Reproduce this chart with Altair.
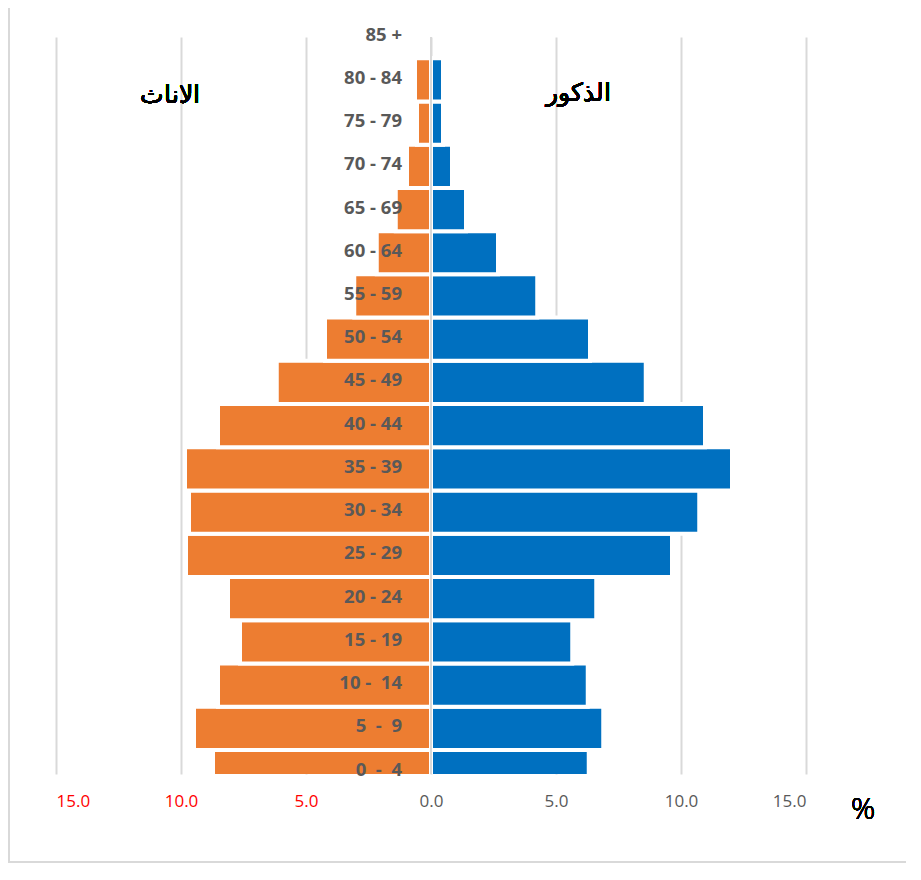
import altair as alt
import pandas as pd

ages = ["0 \u00a0-\u00a0 4", "5 \u00a0-\u00a0 9", "10 -\u00a0 14", "15 - 19", "20 - 24", "25 - 29", "30 - 34",
        "35 - 39", "40 - 44", "45 - 49", "50 - 54", "55 - 59", "60 - 64", "65 - 69",
        "70 - 74", "75 - 79", "80 - 84", "85 +"]
female = [8.72, 9.48, 8.52, 7.64, 8.12, 9.80, 9.68, 9.84, 8.52, 6.17, 4.24, 3.07,
          2.17, 1.41, 0.96, 0.56, 0.64, 0.0]
male = [6.31, 6.89, 6.27, 5.65, 6.61, 9.64, 10.73, 12.04, 10.96, 8.59, 6.36, 4.25,
        2.68, 1.40, 0.84, 0.48, 0.48, 0.0]
tick_values = [-15, -10, -5, 0, 5, 10, 15]

df = pd.DataFrame({
    "idx": list(range(len(ages))),
    "age": ages,
    "female": female,
    "male": male,
})
df["female_neg"] = -df["female"]
df["lo"] = df["idx"] - 0.5
df["hi"] = df["idx"] + 0.5

xscale = alt.Scale(domain=[-15, 15], nice=False, zero=False)
yscale = alt.Scale(domain=[-0.0555, 16.99], nice=False, zero=False)

xaxis = alt.Axis(
    values=tick_values,
    title=None,
    labelExpr="format(abs(datum.value), '.1f')",
    labelColor={"condition": {"test": "datum.value < 0", "value": "#FF0000"}, "value": "#595959"},
    labelFont="Open Sans",
    labelFontSize=17,
    labelFontWeight="normal",
    labelBaseline="middle",
    labelPadding=27,
    ticks=False,
    tickSize=0,
    domain=False,
    grid=True,
    gridColor="#d9d9d9",
    gridWidth=2,
)

base = alt.Chart(df)

fem = base.transform_filter("datum.female > 0").mark_bar(
    color="#ED7D31", stroke="white", strokeWidth=4, clip=True
).encode(
    x=alt.X("female_neg:Q", scale=xscale, axis=xaxis),
    x2=alt.datum(0),
    y=alt.Y("lo:Q", scale=yscale, axis=None),
    y2="hi:Q",
)

mal = base.transform_filter("datum.male > 0").mark_bar(
    color="#0070C0", stroke="white", strokeWidth=4, clip=True
).encode(
    x=alt.X("male:Q", scale=xscale),
    x2=alt.datum(0),
    y=alt.Y("lo:Q", scale=yscale),
    y2="hi:Q",
)

zero_line = alt.Chart(df).mark_rule(color="#d9d9d9", strokeWidth=2).encode(
    x=alt.datum(0)
)

labels = base.mark_text(
    align="right", baseline="middle", font="Open Sans", fontWeight="bold",
    fontSize=18.5, color="#595959", dy=-2
).encode(
    x=alt.datum(-1.16),
    y=alt.Y("idx:Q", scale=yscale),
    text="age:N",
)

t_f = alt.Chart(df).mark_text(
    text="الاناث", font="DejaVu Sans", fontSize=25, fontWeight=200, color="#000000",
    align="center", baseline="middle"
).encode(x=alt.value(114), y=alt.value(58))

t_m = alt.Chart(df).mark_text(
    text="الذكور", font="DejaVu Sans", fontSize=25, fontWeight=200, color="#000000",
    align="center", baseline="middle"
).encode(x=alt.value(522), y=alt.value(56))

pct = alt.Chart(df).mark_text(
    text="%", font="Open Sans", fontSize=30, fontWeight=300, color="#000000",
    align="center", baseline="middle"
).encode(x=alt.value(807), y=alt.value(773))

border_left = alt.Chart(df).mark_rule(color="#d9d9d9", strokeWidth=2).encode(
    x=alt.value(-47), y=alt.value(-29), y2=alt.value(826)
)
border_bottom = alt.Chart(df).mark_rule(color="#d9d9d9", strokeWidth=2).encode(
    x=alt.value(-47), x2=alt.value(850), y=alt.value(825)
)

chart = alt.layer(
    fem, mal, zero_line, labels, t_f, t_m, pct, border_left, border_bottom
).properties(
    width=750,
    height=737,
    autosize=alt.AutoSizeParams(type="none"),
    padding={"left": 48, "top": 29, "right": 100, "bottom": 90},
    background="white",
).configure_view(stroke=None)

chart.save("out.html", embed_options={"renderer": "svg", "actions": False})
